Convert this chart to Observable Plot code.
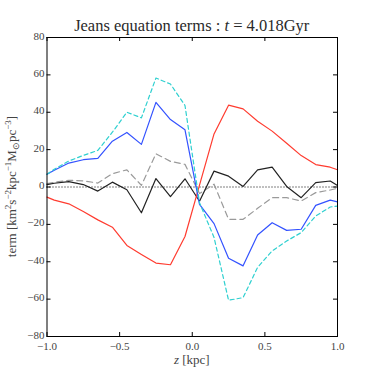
<!DOCTYPE html>
<html><head><meta charset="utf-8">
<script src="https://cdn.jsdelivr.net/npm/d3@7"></script>
<script src="https://cdn.jsdelivr.net/npm/@observablehq/plot@0.6"></script>
<style>body{margin:0;background:#fff;} #chart svg{display:block;}</style>
</head><body><div id="chart"></div>
<script>
// z positions [kpc]
const zKpc = [-1.0, -0.95, -0.85, -0.75, -0.65, -0.55, -0.45, -0.35, -0.25, -0.15, -0.05,
              0.05, 0.15, 0.25, 0.35, 0.45, 0.55, 0.65, 0.75, 0.85, 0.95, 1.0];
// Jeans equation terms
const redTerm   = [-5.4, -7.0, -9.0, -13.1, -17.6, -21.5, -31.3, -36.1, -40.7, -41.6, -26.5,
                   1.0, 28.4, 43.8, 41.8, 35.2, 29.9, 23.4, 16.8, 12.0, 10.6, 9.2];
const blueTerm  = [6.8, 9.0, 12.8, 14.6, 15.3, 24.5, 29.2, 22.8, 45.3, 36.1, 30.6,
                   -9.3, -19.6, -38.1, -42.2, -25.7, -19.1, -23.2, -22.6, -9.8, -7.0, -8.0];
const cyanTerm  = [6.8, 9.5, 13.9, 16.9, 19.6, 29.3, 40.0, 37.0, 58.3, 55.1, 43.6,
                   -8.4, -27.0, -60.6, -59.2, -43.0, -34.2, -28.9, -24.4, -15.5, -10.7, -10.2];
const grayTerm  = [1.8, 2.5, 3.6, 3.3, 2.1, 7.1, 9.2, 0.9, 17.8, 13.7, 12.1,
                   -3.5, 1.5, -17.3, -17.3, -11.4, -5.7, -5.7, -7.5, -3.0, -1.6, -0.7];
const blackTerm = [1.3, 2.0, 2.9, 1.3, -2.2, 2.6, -1.5, -13.8, 4.5, -5.1, 4.4,
                   -7.6, 8.5, 5.8, 0.3, 9.2, 10.6, 0.3, -5.7, 2.3, 3.2, 0.8];
const xTicks = [-1.0, -0.5, 0.0, 0.5, 1.0];
const yTicks = [-80, -60, -40, -20, 0, 20, 40, 60, 80];

const rows = (vals) => zKpc.map((z, i) => ({z, v: vals[i]}));
const W = 374, H = 374, mL = 46.5, mR = 37, mT = 37, mB = 38;
const fW = W - mL - mR, fH = H - mT - mB;
const fmt = (d, p) => d.toFixed(p).replace("-", "\u2212");

const svg = Plot.plot({
  width: W, height: H,
  marginLeft: mL, marginRight: mR, marginTop: mT, marginBottom: mB,
  style: {fontFamily: "Liberation Serif", fontSize: "11px", color: "#444", background: "#fff"},
  x: {domain: [-1, 1]},
  y: {domain: [-80, 80]},
  marks: [
    Plot.ruleY([0], {stroke: "#000", strokeDasharray: "1,2", strokeWidth: 1}),
    Plot.line(rows(grayTerm), {x: "z", y: "v", stroke: "#9a9a9a", strokeWidth: 1.2, strokeDasharray: "6,4"}),
    Plot.line(rows(blackTerm), {x: "z", y: "v", stroke: "#222", strokeWidth: 1.2}),
    Plot.line(rows(redTerm), {x: "z", y: "v", stroke: "#ff3b2f", strokeWidth: 1.2}),
    Plot.line(rows(blueTerm), {x: "z", y: "v", stroke: "#3352ff", strokeWidth: 1.2}),
    Plot.line(rows(cyanTerm), {x: "z", y: "v", stroke: "#2fd0d0", strokeWidth: 1.2, strokeDasharray: "4,3"}),
    Plot.frame({stroke: "#000"}),
    Plot.ruleX(xTicks, {stroke: "#000", insetTop: fH - 4}),
    Plot.ruleX(xTicks, {stroke: "#000", insetBottom: fH - 4}),
    Plot.ruleY(yTicks, {stroke: "#000", insetRight: fW - 4}),
    Plot.ruleY(yTicks, {stroke: "#000", insetLeft: fW - 4}),
    Plot.axisX({ticks: xTicks, tickSize: 0, tickPadding: 5.5, tickFormat: d => fmt(d, 1), label: null}),
    Plot.axisY({ticks: yTicks, tickSize: 0, tickPadding: 2.5, dy: -1.5, tickFormat: d => fmt(d, 0), label: null})
  ]
});
document.getElementById("chart").appendChild(svg);

const s = d3.select(svg);
// title
const t = s.append("text").attr("x", mL + fW / 2).attr("y", 31).attr("text-anchor", "middle")
  .attr("font-family", "Liberation Serif").attr("font-size", 16.5).attr("fill", "#2a2a2a");
t.append("tspan").text("Jeans equation terms : ");
t.append("tspan").attr("font-style", "italic").text("t");
t.append("tspan").text(" = 4.018Gyr");
// x label
const xl = s.append("text").attr("x", mL + fW / 2).attr("y", 364).attr("text-anchor", "middle")
  .attr("font-family", "Liberation Serif").attr("font-size", 13).attr("fill", "#444");
xl.append("tspan").attr("font-style", "italic").text("z");
xl.append("tspan").text(" [kpc]");
// y label
const yl = s.append("text").attr("transform", `translate(16,${mT + fH / 2}) rotate(-90)`)
  .attr("text-anchor", "middle").attr("font-family", "Liberation Serif").attr("font-size", 13).attr("fill", "#444");
const parts = [["term [km", 0], ["2", -1], ["s", 0], ["\u22122", -1], ["kpc", 0], ["\u22121", -1],
               ["M", 0], ["\u2299", 1], ["pc", 0], ["\u22123", -1], ["]", 0]];
let prev = 0;
for (const [txt, lvl] of parts) {
  const off = lvl === -1 ? -5 : lvl === 1 ? 3 : 0;
  yl.append("tspan").attr("dy", off - prev).attr("font-size", lvl ? 9 : 13).text(txt);
  prev = off;
}
</script></body></html>
